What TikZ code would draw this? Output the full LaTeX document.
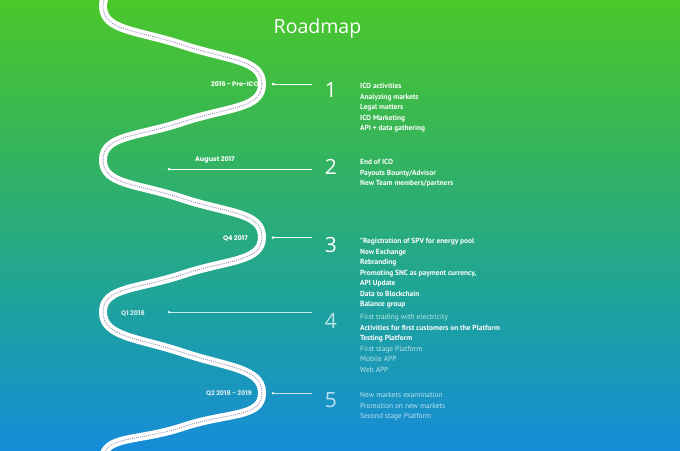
\documentclass[tikz,border=0pt]{standalone}
\usepackage{fontspec}
\setmainfont{PT Sans}
\newfontfamily\datefont{Poppins}
\newfontfamily\titlefont{Open Sans}
\definecolor{bgA}{RGB}{75,199,42}
\definecolor{bgB}{RGB}{52,180,92}
\definecolor{bgC}{RGB}{30,163,155}
\definecolor{bgD}{RGB}{22,140,216}
\definecolor{roaddot}{RGB}{150,140,178}
\tikzset{
  item/.style={anchor=base west,inner sep=0pt,text=white,font=\fontsize{7.4}{8}\selectfont\bfseries},
  itemfaint/.style={item,font=\fontsize{7.4}{8}\selectfont,text opacity=0.72},
  num/.style={anchor=base,inner sep=0pt,text=white,font=\titlefont\fontsize{21}{22}\selectfont},
  numfaint/.style={num,text opacity=0.7},
  datel/.style={inner sep=0pt,text=white,font=\datefont\fontsize{6.5}{7}\selectfont\bfseries},
  datefaint/.style={datel,text opacity=0.8},
  link/.style={draw=white,line width=0.9pt},
  linkfaint/.style={link,draw opacity=0.75},
  road/.style={draw=white,line width=8pt},
  roadline/.style={draw=roaddot,line width=0.9pt,dash pattern=on 0.9pt off 1.1pt},
}
\begin{document}
\begin{tikzpicture}[x=1pt,y=-1pt]
\useasboundingbox (0,0) rectangle (680,450);
\shade[top color=bgA,bottom color=bgB] (0,0) rectangle (680,150.5);
\shade[top color=bgB,bottom color=bgC] (0,150) rectangle (680,300.5);
\shade[top color=bgC,bottom color=bgD] (0,300) rectangle (680,450);

% title
\node[num,font=\titlefont\fontsize{19.5}{22}\selectfont] (title) at (317.5,33) {Roadmap};

% date labels
\node[datel,anchor=base east] (d1) at (259,86.5) {2016 - Pre-ICO};
\node[datel,anchor=base west] (d2) at (195,161.5) {August 2017};
\node[datel,anchor=base east] (d3) at (248,240.5) {Q4 2017};
\node[datefaint,anchor=base west] (d4) at (121,315.5) {Q1 2018};
\node[datefaint,anchor=base east] (d5) at (252,395.5) {Q2 2018 - 2019};

% road
\begin{scope}
\clip (0,0) rectangle (680,450);
\def\roadpath{(262,-71) .. controls +(0,25) and +(45,-15) .. (182.5,-32.5)
  .. controls +(-45,15) and +(0,-25) .. (103,6)
  .. controls +(0,25) and +(-45,-15) .. (182.5,45)
  .. controls +(45,15) and +(0,-25) .. (262,84)
  .. controls +(0,25) and +(45,-15) .. (182.5,122)
  .. controls +(-45,15) and +(0,-25) .. (103,160)
  .. controls +(0,25) and +(-45,-15) .. (182.5,198.5)
  .. controls +(45,15) and +(0,-25) .. (262,237)
  .. controls +(0,25) and +(45,-15) .. (182.5,274.5)
  .. controls +(-45,15) and +(0,-25) .. (103,312)
  .. controls +(0,25) and +(-45,-15) .. (182.5,352.5)
  .. controls +(45,15) and +(0,-25) .. (262,393)
  .. controls +(0,25) and +(45,-15) .. (182.5,427)
  .. controls +(-45,15) and +(0,-25) .. (103,460)}
\draw[road] \roadpath;
\draw[roadline] \roadpath;
\end{scope}

% connector end points
\coordinate (a1) at (273,84);   \coordinate (b1) at (312,84);
\coordinate (a2) at (169,169);  \coordinate (b2) at (312,169);
\coordinate (a3) at (273,237.5);\coordinate (b3) at (312,237.5);
\coordinate (a4) at (169,312);  \coordinate (b4) at (312,312);
\coordinate (a5) at (273,393);  \coordinate (b5) at (312,393);
\draw[link] (a1) -- (b1); \fill[white] (a1) circle (1.5);
\draw[link] (a2) -- (b2); \fill[white] (a2) circle (1.5);
\draw[link] (a3) -- (b3); \fill[white] (a3) circle (1.5);
\draw[linkfaint] (a4) -- (b4); \fill[white,opacity=0.75] (a4) circle (1.5);
\draw[linkfaint] (a5) -- (b5); \fill[white,opacity=0.75] (a5) circle (1.5);

% numbers
\node[num] (n1) at (331,97) {1};
\node[num] (n2) at (331,174) {2};
\node[num] (n3) at (331,252) {3};
\node[numfaint] (n4) at (331,328.5) {4};
\node[numfaint] (n5) at (331,407) {5};

% group 1
\node[item] (g1a) at (360,88.5) {ICO activities};
\node[item] (g1b) at (360,99) {Analyzing markets};
\node[item] (g1c) at (360,109.5) {Legal matters};
\node[item] (g1d) at (360,120) {ICO Marketing};
\node[item] (g1e) at (360,130.5) {API + data gathering};
% group 2
\node[item] (g2a) at (360,164.5) {End of ICO};
\node[item] (g2b) at (360,175) {Payouts Bounty/Advisor};
\node[item] (g2c) at (360,185.5) {New Team members/partners};
% group 3
\node[item] (g3a) at (360,243.5) {"Registration of SPV for energy pool};
\node[item] (g3b) at (360,254) {New Exchange};
\node[item] (g3c) at (360,264.5) {Rebranding};
\node[item] (g3d) at (360,275) {Promoting SNC as payment currency,};
\node[item] (g3e) at (360,285.5) {API Update};
\node[item] (g3f) at (360,296) {Data to Blockchain};
\node[item] (g3g) at (360,306.5) {Balance group};
% group 4
\node[itemfaint] (g4a) at (360,319.5) {First trading with electricity};
\node[item] (g4b) at (360,330) {Activities for first customers on the Platform};
\node[item] (g4c) at (360,340.5) {Testing Platform};
\node[itemfaint] (g4d) at (360,351) {First stage Platform};
\node[itemfaint] (g4e) at (360,361.5) {Mobile APP};
\node[itemfaint] (g4f) at (360,372) {Web APP};
% group 5
\node[itemfaint] (g5a) at (360,397.5) {New markets examination};
\node[itemfaint] (g5b) at (360,408) {Promotion on new markets};
\node[itemfaint] (g5c) at (360,418.5) {Second stage Platform};
\end{tikzpicture}
\end{document}
